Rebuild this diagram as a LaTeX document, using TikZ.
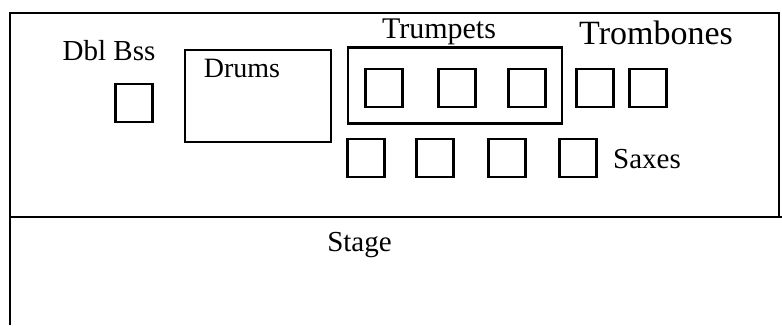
\documentclass[tikz,border=0pt]{standalone}
\usepackage{fontspec}
\setmainfont{Liberation Serif}
\tikzset{
  sq/.style={draw, line width=2.7pt, minimum width=37pt, minimum height=38pt, inner sep=0pt},
  frame/.style={line width=2.6pt},
  lbl/.style={anchor=base, inner sep=0pt},
}
\newcommand{\fs}[1]{\fontsize{#1}{#1}\selectfont}
\begin{document}
\begin{tikzpicture}[x=1pt,y=-1pt]
\useasboundingbox (0,0) rectangle (782,325);
% frame
\coordinate (fbl) at (10,325);
\coordinate (ftl) at (10,13);
\coordinate (ftr) at (779,13);
\coordinate (fmr) at (779,217);
\coordinate (ml) at (10,217);
\coordinate (mr) at (782,217);
\draw[frame] (fbl) -- (ftl) -- (ftr) -- (fmr);
\draw[frame] (ml) -- (mr);
% Double bass
\node[lbl] (dbltxt) at (109,60) {\fs{29}Dbl Bss};
\node[sq] (dbl) at (134,103) {};
% Drums
\node[draw, frame, minimum width=146pt, minimum height=92pt, inner sep=0pt] (drums) at (258,96) {};
\node[lbl] (drumstxt) at (242,77) {\fs{28}Drums};
% Trumpets
\node[draw, frame, minimum width=214pt, minimum height=76pt, inner sep=0pt] (trpbox) at (455,85.5) {};
\node[lbl] (trptxt) at (439,38) {\fs{30}Trumpets};
\node[sq] (t1) at (384,88) {};
\node[sq] (t2) at (457,88) {};
\node[sq] (t3) at (527,88) {};
% Trombones
\node[lbl] (trbtxt) at (656,44) {\fs{34}Trombones};
\node[sq] (b1) at (595,88) {};
\node[sq] (b2) at (648,88) {};
% Saxes
\node[sq] (s1) at (366,158) {};
\node[sq] (s2) at (435,158) {};
\node[sq] (s3) at (507,158) {};
\node[sq] (s4) at (578,158) {};
\node[lbl] (saxtxt) at (647,168) {\fs{29}Saxes};
% Stage
\node[lbl] (stagetxt) at (359.5,251) {\fs{29}Stage};
\end{tikzpicture}
\end{document}
